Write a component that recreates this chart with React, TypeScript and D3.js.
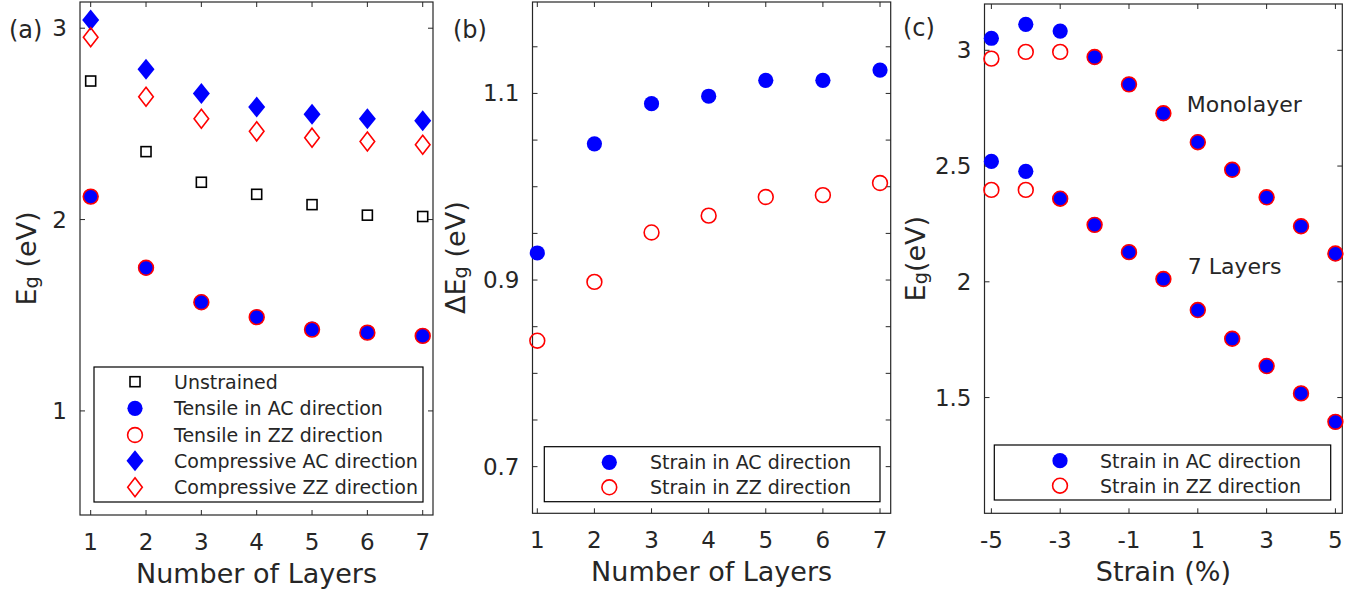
import React from "react";
import * as d3 from "d3";

// ---------- data ----------
const layers = [1, 2, 3, 4, 5, 6, 7];
const unstrained = [2.724, 2.355, 2.195, 2.132, 2.078, 2.023, 2.016];
const tensileAC = [2.12, 1.748, 1.568, 1.49, 1.428, 1.409, 1.392];
const tensileZZ = [2.12, 1.748, 1.568, 1.49, 1.425, 1.409, 1.392];
const compressiveAC = [3.043, 2.786, 2.659, 2.588, 2.551, 2.527, 2.516];
const compressiveZZ = [2.953, 2.642, 2.527, 2.461, 2.428, 2.408, 2.391];

const deltaAC = [0.929, 1.046, 1.089, 1.097, 1.114, 1.114, 1.125];
const deltaZZ = [0.835, 0.898, 0.951, 0.969, 0.989, 0.991, 1.004];

const strain = [-5, -4, -3, -2, -1, 0, 1, 2, 3, 4, 5];
const monoAC = [3.052, 3.112, 3.083, 2.971, 2.853, 2.728, 2.603, 2.484, 2.365, 2.24, 2.122];
const monoZZ = [2.964, 2.993, 2.993, 2.971, 2.853, 2.728, 2.603, 2.484, 2.365, 2.24, 2.122];
const sevenAC = [2.52, 2.477, 2.359, 2.246, 2.128, 2.012, 1.878, 1.754, 1.636, 1.518, 1.395];
const sevenZZ = [2.397, 2.397, 2.359, 2.246, 2.128, 2.012, 1.878, 1.754, 1.636, 1.518, 1.395];

const xTicksLayers = [1, 2, 3, 4, 5, 6, 7];
const yTicksA = [1, 2, 3];
const yTicksB = [0.7, 0.75, 0.8, 0.85, 0.9, 0.95, 1.0, 1.05, 1.1, 1.15];
const yLabelsB = [0.7, 0.9, 1.1];
const xTicksC = [-5, -3, -1, 1, 3, 5];
const yTicksC = [1.5, 2, 2.5, 3];

const legendA = [
  "Unstrained",
  "Tensile in AC direction",
  "Tensile in ZZ direction",
  "Compressive AC direction",
  "Compressive ZZ direction",
];
const legendBC = ["Strain in AC direction", "Strain in ZZ direction"];

// ---------- style ----------
const FONT = "DejaVu Sans";
const INK = "#262626";
const BLUE = "#0000ff";
const RED = "#ff0000";
const TICK_FS = 23;
const LABEL_FS = 27;
const LEG_FS = 19;

type MarkerKind = "square" | "dot" | "ring" | "diamondFill" | "diamondOpen";

function Marker({ kind, x, y }: { kind: MarkerKind; x: number; y: number }) {
  switch (kind) {
    case "square":
      return <rect x={x - 5} y={y - 5} width={10} height={10} fill="none" stroke="#000" strokeWidth={1.6} />;
    case "dot":
      return <circle cx={x} cy={y} r={7.6} fill={BLUE} />;
    case "ring":
      return <circle cx={x} cy={y} r={7.4} fill="none" stroke={RED} strokeWidth={1.6} />;
    case "diamondFill":
      return <path d={`M${x},${y - 10.5}L${x + 8.5},${y}L${x},${y + 10.5}L${x - 8.5},${y}Z`} fill={BLUE} />;
    case "diamondOpen":
      return (
        <path
          d={`M${x},${y - 9.5}L${x + 7.3},${y}L${x},${y + 9.5}L${x - 7.3},${y}Z`}
          fill="none"
          stroke={RED}
          strokeWidth={1.6}
        />
      );
  }
}

type Series = { xs: number[]; ys: number[]; kind: MarkerKind };

type PanelProps = {
  left: number;
  right: number;
  top: number;
  bottom: number;
  xDomain: [number, number];
  yDomain: [number, number];
  xTicks: number[];
  yTicks: number[];
  yLabels: number[];
  xFmt: (v: number) => string;
  yFmt: (v: number) => string;
  series: Series[];
  xLabel: string;
  yLabel: React.ReactNode;
  yLabelX: number;
  tag: string;
  tagX: number;
  tagY: number;
  legend: { items: string[]; kinds: MarkerKind[]; x0: number; x1: number; y0: number; y1: number; mx: number; tx: number; rowY: number[] };
  children?: React.ReactNode;
};

function Panel(p: PanelProps) {
  const x = d3.scaleLinear().domain(p.xDomain).range([p.left, p.right]);
  const y = d3.scaleLinear().domain(p.yDomain).range([p.bottom, p.top]);
  const tl = 5;
  return (
    <g>
      <rect
        x={p.left}
        y={p.top}
        width={p.right - p.left}
        height={p.bottom - p.top}
        fill="none"
        stroke={INK}
        strokeWidth={1.2}
      />
      {p.xTicks.map((t) => (
        <g key={"xt" + t}>
          <line x1={x(t)} x2={x(t)} y1={p.bottom} y2={p.bottom - tl} stroke={INK} strokeWidth={1} />
          <line x1={x(t)} x2={x(t)} y1={p.top} y2={p.top + tl} stroke={INK} strokeWidth={1} />
          <text
            x={x(t)}
            y={p.bottom + 27}
            textAnchor="middle"
            dominantBaseline="central"
            fontFamily={FONT}
            fontSize={TICK_FS}
            fill={INK}
          >
            {p.xFmt(t)}
          </text>
        </g>
      ))}
      {p.yTicks.map((t) => (
        <g key={"yt" + t}>
          <line x1={p.left} x2={p.left + tl} y1={y(t)} y2={y(t)} stroke={INK} strokeWidth={1} />
          <line x1={p.right} x2={p.right - tl} y1={y(t)} y2={y(t)} stroke={INK} strokeWidth={1} />
        </g>
      ))}
      {p.yLabels.map((t) => (
        <text
          key={"yl" + t}
          x={p.left - 13}
          y={y(t)}
          textAnchor="end"
          dominantBaseline="central"
          fontFamily={FONT}
          fontSize={TICK_FS}
          fill={INK}
        >
          {p.yFmt(t)}
        </text>
      ))}
      <text
        x={(p.left + p.right) / 2}
        y={p.bottom + 58}
        textAnchor="middle"
        dominantBaseline="central"
        fontFamily={FONT}
        fontSize={LABEL_FS}
        fill={INK}
      >
        {p.xLabel}
      </text>
      <text
        transform={`translate(${p.yLabelX},${(p.top + p.bottom) / 2}) rotate(-90)`}
        textAnchor="middle"
        dominantBaseline="central"
        fontFamily={FONT}
        fontSize={LABEL_FS}
        fill={INK}
      >
        {p.yLabel}
      </text>
      <text x={p.tagX} y={p.tagY} dominantBaseline="central" fontFamily={FONT} fontSize={24} fill={INK}>
        {p.tag}
      </text>
      {p.series.map((s, si) => (
        <g key={"s" + si}>
          {s.xs.map((xv, i) => (
            <Marker key={i} kind={s.kind} x={x(xv)} y={y(s.ys[i])} />
          ))}
        </g>
      ))}
      {p.children}
      <rect
        x={p.legend.x0}
        y={p.legend.y0}
        width={p.legend.x1 - p.legend.x0}
        height={p.legend.y1 - p.legend.y0}
        fill="#fff"
        stroke="#000"
        strokeWidth={1.2}
      />
      {p.legend.items.map((it, i) => (
        <g key={"lg" + i}>
          <Marker kind={p.legend.kinds[i]} x={p.legend.mx} y={p.legend.rowY[i]} />
          <text
            x={p.legend.tx}
            y={p.legend.rowY[i]}
            dominantBaseline="central"
            fontFamily={FONT}
            fontSize={LEG_FS}
            fill={INK}
          >
            {it}
          </text>
        </g>
      ))}
    </g>
  );
}

const fmtPlain = (v: number) => String(v);

function EgLabel({ delta, space }: { delta?: boolean; space: boolean }) {
  return (
    <>
      {delta ? "\u0394" : ""}E
      <tspan baselineShift="-30%" fontSize={LABEL_FS * 0.72}>
        g
      </tspan>
      <tspan>{space ? " (eV)" : "(eV)"}</tspan>
    </>
  );
}

export default function App() {
  const W = 1361;
  const H = 594;
  return (
    <svg
      width={W}
      height={H}
      viewBox={`0 0 ${W} ${H}`}
      style={{ position: "absolute", left: 0, top: 0, background: "#fff" }}
    >
      <rect x={0} y={0} width={W} height={H} fill="#fff" />
      <Panel
        left={80}
        right={433}
        top={2}
        bottom={515}
        xDomain={[0.807, 7.186]}
        yDomain={[0.456, 3.137]}
        xTicks={xTicksLayers}
        yTicks={yTicksA}
        yLabels={yTicksA}
        xFmt={fmtPlain}
        yFmt={fmtPlain}
        series={[
          { xs: layers, ys: unstrained, kind: "square" },
          { xs: layers, ys: tensileAC, kind: "dot" },
          { xs: layers, ys: tensileZZ, kind: "ring" },
          { xs: layers, ys: compressiveAC, kind: "diamondFill" },
          { xs: layers, ys: compressiveZZ, kind: "diamondOpen" },
        ]}
        xLabel="Number of Layers"
        yLabel={<EgLabel space={true} />}
        yLabelX={26}
        tag="(a)"
        tagX={9}
        tagY={30}
        legend={{
          items: legendA,
          kinds: ["square", "dot", "ring", "diamondFill", "diamondOpen"],
          x0: 94,
          x1: 423,
          y0: 367,
          y1: 502,
          mx: 135,
          tx: 174,
          rowY: [381.7, 408.3, 435, 460.7, 487.3],
        }}
      />
      <Panel
        left={532.5}
        right={890.7}
        top={2}
        bottom={513.3}
        xDomain={[0.916, 7.187]}
        yDomain={[0.65, 1.198]}
        xTicks={xTicksLayers}
        yTicks={yTicksB}
        yLabels={yLabelsB}
        xFmt={fmtPlain}
        yFmt={(v) => d3.format(".1f")(v)}
        series={[
          { xs: layers, ys: deltaAC, kind: "dot" },
          { xs: layers, ys: deltaZZ, kind: "ring" },
        ]}
        xLabel="Number of Layers"
        yLabel={<EgLabel delta={true} space={true} />}
        yLabelX={455}
        tag="(b)"
        tagX={453}
        tagY={30}
        legend={{
          items: legendBC,
          kinds: ["dot", "ring"],
          x0: 544.3,
          x1: 880,
          y0: 446.7,
          y1: 501.7,
          mx: 609.3,
          tx: 650,
          rowY: [462.3, 487.3],
        }}
      />
      <Panel
        left={984.5}
        right={1342.3}
        top={4}
        bottom={513.3}
        xDomain={[-5.2, 5.2]}
        yDomain={[1.0, 3.2]}
        xTicks={xTicksC}
        yTicks={yTicksC}
        yLabels={yTicksC}
        xFmt={fmtPlain}
        yFmt={fmtPlain}
        series={[
          { xs: strain, ys: monoAC, kind: "dot" },
          { xs: strain, ys: monoZZ, kind: "ring" },
          { xs: strain, ys: sevenAC, kind: "dot" },
          { xs: strain, ys: sevenZZ, kind: "ring" },
        ]}
        xLabel="Strain (%)"
        yLabel={<EgLabel space={false} />}
        yLabelX={915}
        tag="(c)"
        tagX={903}
        tagY={28}
        legend={{
          items: legendBC,
          kinds: ["dot", "ring"],
          x0: 994.3,
          x1: 1330.7,
          y0: 445,
          y1: 500,
          mx: 1060,
          tx: 1100,
          rowY: [460.7, 485.7],
        }}
      >
        <text x={1186.7} y={104.3} dominantBaseline="central" fontFamily={FONT} fontSize={22} fill={INK}>
          Monolayer
        </text>
        <text x={1187.7} y={266.7} dominantBaseline="central" fontFamily={FONT} fontSize={22} fill={INK}>
          7 Layers
        </text>
      </Panel>
    </svg>
  );
}
